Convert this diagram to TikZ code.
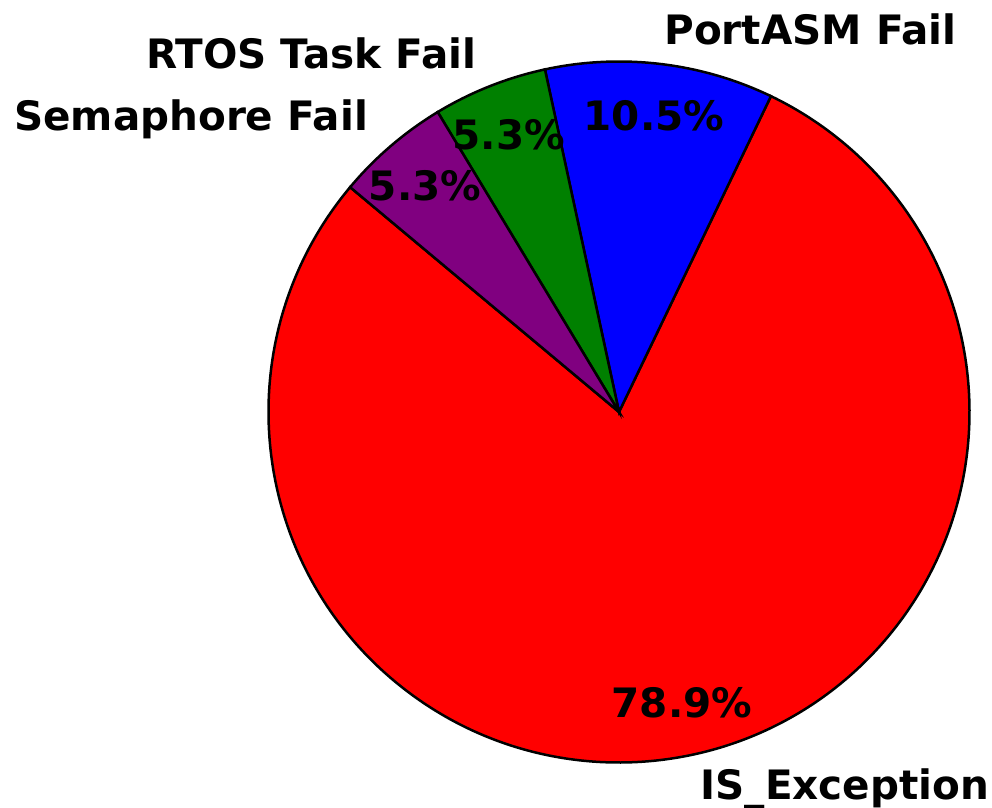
\documentclass[tikz,border=0pt]{standalone}
\usepackage{fontspec}
\setmainfont{DejaVu Sans}
\usetikzlibrary{calc}
\definecolor{wedgeRed}{RGB}{255,0,0}
\definecolor{wedgeBlue}{RGB}{0,0,255}
\definecolor{wedgeGreen}{RGB}{0,128,0}
\definecolor{wedgePurple}{RGB}{128,0,128}
\def\slice[#1](#2)(#3:#4:#5){\draw[#1] (#2) -- ++(#3:#5) arc (#3:#4:#5) -- cycle;}

\begin{document}
\begin{tikzpicture}[x=1pt,y=1pt,
		pct/.style={font=\fontsize{40.5}{48}\selectfont\bfseries, inner sep=0pt},
		lbl/.style={font=\fontsize{40.5}{48}\selectfont\bfseries, inner sep=0pt}]
			%%%%% START %%%%%
			\useasboundingbox (0,0) rectangle (992,807);
			\coordinate (ctr) at (619,395);
			
			\slice[fill=wedgeRed, line width=2.5pt](ctr)(140.1:424.31:350.5pt)
			\slice[fill=wedgeBlue, line width=2.5pt](ctr)(64.31:102.2:350.5pt)
			\slice[fill=wedgeGreen, line width=2.5pt](ctr)(102.2:121.15:350.5pt)
			\slice[fill=wedgePurple, line width=2.5pt](ctr)(121.15:140.1:350.5pt)
			
			\node[pct] (pctRed) at ([shift={(282.2:297.9pt)}]ctr) {78.9\%};
			\node[pct] (pctBlue) at ([shift={(83.26:297.9pt)}]ctr) {10.5\%};
			\node[pct] (pctGreen) at ([shift={(111.7:297.9pt)}]ctr) {5.3\%};
			\node[pct] (pctPurple) at ([shift={(130.6:297.9pt)}]ctr) {5.3\%};
			
			\node[lbl, anchor=west] (lblRed) at ([shift={(282.2:385.5pt)}]ctr) {IS\_Exception};
			\node[lbl, anchor=west] (lblBlue) at ([shift={(83.26:385.5pt)}]ctr) {PortASM Fail};
			\node[lbl, anchor=east] (lblGreen) at ([shift={(111.7:385.5pt)}]ctr) {RTOS Task Fail};
			\node[lbl, anchor=east] (lblPurple) at ([shift={(130.6:385.5pt)}]ctr) {Semaphore Fail};
			%%%%% END %%%%%
\end{tikzpicture}
\end{document}
